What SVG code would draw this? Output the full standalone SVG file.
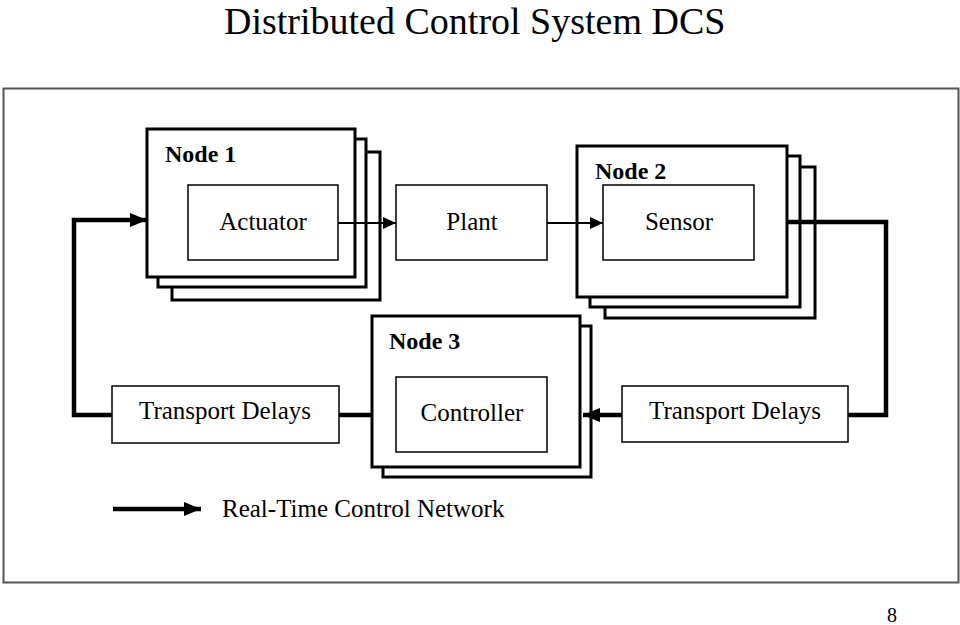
<svg xmlns="http://www.w3.org/2000/svg" width="960" height="625" viewBox="0 0 960 625">
<defs>
<style>
.t{font-family:"Liberation Serif","Times New Roman",serif;fill:#000}
.lbl{font-size:25px;text-anchor:middle}
.nd{font-size:24px;font-weight:bold}
.stk{fill:#fff;stroke:#000;stroke-width:3}
.inn{fill:#fff;stroke:#000;stroke-width:1.5}
.thick{fill:none;stroke:#000;stroke-width:4.5}
.thin{fill:none;stroke:#000;stroke-width:2}
</style>
<marker id="ah" markerUnits="userSpaceOnUse" viewBox="0 0 17 14" refX="17" refY="7" markerWidth="17" markerHeight="14" orient="auto">
<path d="M0,0 L17,7 L0,14 Z" fill="#000"/>
</marker>
<marker id="ahs" markerUnits="userSpaceOnUse" viewBox="0 0 13 12" refX="13" refY="6" markerWidth="13" markerHeight="12" orient="auto">
<path d="M0,0 L13,6 L0,12 Z" fill="#000"/>
</marker>
</defs>
<rect width="960" height="625" fill="#fff"/>
<text class="t" x="224" y="34" font-size="38">Distributed Control System DCS</text>
<rect x="3.5" y="88.5" width="955" height="494" fill="none" stroke="#555" stroke-width="2"/>

<g id="node1">
<rect class="stk" x="172" y="152" width="208" height="148"/>
<rect class="stk" x="158" y="139" width="208" height="148"/>
<rect class="stk" x="147" y="129" width="208" height="148"/>
<text class="t nd" x="165" y="162">Node 1</text>
<g id="actuator">
<rect class="inn" x="188" y="185" width="150" height="75"/>
<text class="t lbl" x="263" y="230">Actuator</text>
</g>
</g>

<g id="plant">
<rect class="inn" x="396" y="185" width="151" height="75"/>
<text class="t lbl" x="472" y="230">Plant</text>
</g>

<g id="node2">
<rect class="stk" x="605" y="167" width="210" height="151"/>
<rect class="stk" x="590" y="156" width="210" height="151"/>
<rect class="stk" x="577" y="146" width="210" height="151"/>
<text class="t nd" x="595" y="179">Node 2</text>
<g id="sensor">
<rect class="inn" x="603" y="185" width="151" height="75"/>
<text class="t lbl" x="679" y="230">Sensor</text>
</g>
</g>

<g id="node3">
<rect class="stk" x="383" y="326" width="208" height="151"/>
<rect class="stk" x="372" y="316" width="208" height="151"/>
<text class="t nd" x="389" y="349">Node 3</text>
<g id="controller">
<rect class="inn" x="396" y="377" width="151" height="75"/>
<text class="t lbl" x="472" y="421">Controller</text>
</g>
</g>

<g id="td-left">
<rect class="inn" x="112" y="386" width="227" height="57"/>
<text class="t lbl" x="225" y="419">Transport Delays</text>
</g>

<g id="td-right">
<rect class="inn" x="622" y="386" width="226" height="56"/>
<text class="t lbl" x="735" y="419">Transport Delays</text>
</g>

<g id="connectors">
<line class="thin" x1="338" y1="223" x2="396" y2="223" marker-end="url(#ahs)"/>
<line class="thin" x1="547" y1="223" x2="603" y2="223" marker-end="url(#ahs)"/>
<polyline class="thick" points="787,222 886,222 886,415 848,415"/>
<line class="thick" x1="622" y1="415" x2="583" y2="415" marker-end="url(#ah)"/>
<line class="thick" x1="372" y1="415" x2="339" y2="415"/>
<polyline class="thick" points="112,415 74,415 74,220 147,220" marker-end="url(#ah)"/>
</g>

<g id="legend">
<line class="thick" x1="113" y1="509" x2="201" y2="509" marker-end="url(#ah)"/>
<text class="t" x="222" y="517" font-size="25">Real-Time Control Network</text>
</g>

<text class="t" x="892" y="622" font-size="20" text-anchor="middle">8</text>
</svg>
